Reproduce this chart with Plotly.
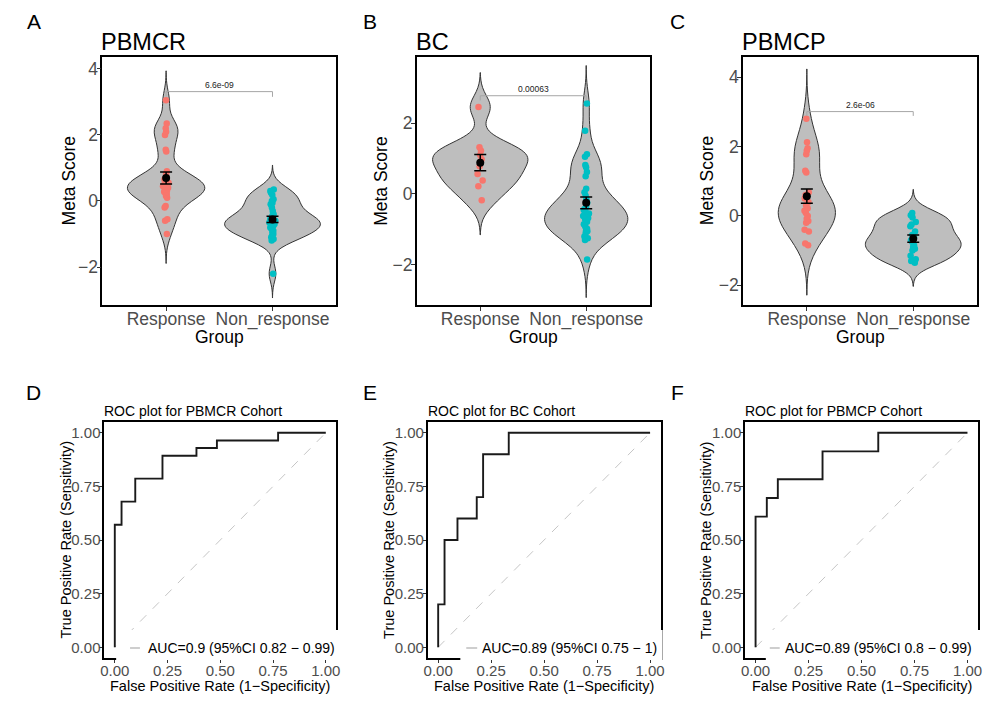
import numpy as np
import plotly.graph_objects as go

# ---------------- data ----------------
groups = ["Response", "Non_response"]
cohorts = ["PBMCR", "BC", "PBMCP"]
letters_top = ["A", "B", "C"]
letters_bottom = ["D", "E", "F"]

pbmcr_response = [3.05, 2.35, 2.2, 2.1, 2.0, 1.55, 1.5, 0.9, 0.8, 0.7, 0.65, 0.6, 0.55, 0.5,
                  0.45, 0.4, 0.35, 0.3, 0.28, 0.25, 0.2, 0.15, 0.1, -0.15, -0.2, -0.55, -0.6, -1.0]
pbmcr_non_response = [0.35, 0.3, 0.25, 0.18, 0.05, 0.0, -0.05, -0.1, -0.2, -0.3, -0.4, -0.45,
                      -0.5, -0.55, -0.6, -0.6, -0.65, -0.65, -0.7, -0.7, -0.75, -0.8, -0.85,
                      -0.9, -0.95, -1.0, -1.05, -1.1, -1.15, -1.2, -2.2]
bc_response = [2.45, 1.32, 1.22, 1.1, 0.98, 0.78, 0.56, 0.38, 0.22, -0.18]
bc_non_response = [2.55, 1.78, 1.12, 1.05, 0.82, 0.75, 0.62, 0.5, 0.15, 0.05, -0.05, -0.15,
                   -0.25, -0.35, -0.4, -0.45, -0.5, -0.55, -0.6, -0.62, -0.68, -0.72, -0.78,
                   -0.85, -0.92, -0.98, -1.02, -1.05, -1.1, -1.2, -1.25, -1.3, -1.85]
pbmcp_response = [2.8, 2.12, 1.95, 1.88, 1.78, 1.3, 1.25, 0.68, 0.6, 0.5, 0.4, 0.3, 0.22,
                  0.15, 0.08, 0.0, -0.08, -0.15, -0.2, -0.4, -0.45, -0.8, -0.85]
pbmcp_non_response = [0.08, 0.02, -0.05, -0.18, -0.25, -0.3, -0.45, -0.55, -0.62, -0.7, -0.75,
                      -0.85, -0.9, -0.95, -1.0, -1.15, -1.25, -1.3, -1.35]

p_values = ["6.6e-09", "0.00063", "2.6e-06"]

roc_pbmcr_fpr = [0, 0, 0.032, 0.097, 0.226, 0.387, 0.484, 0.774, 1.0]
roc_pbmcr_tpr = [0, 0.571, 0.679, 0.786, 0.893, 0.929, 0.964, 1.0, 1.0]
roc_bc_fpr = [0, 0, 0.030, 0.091, 0.182, 0.212, 0.333, 1.0]
roc_bc_tpr = [0, 0.2, 0.5, 0.6, 0.7, 0.9, 1.0, 1.0]
roc_pbmcp_fpr = [0, 0, 0.053, 0.105, 0.316, 0.579, 1.0]
roc_pbmcp_tpr = [0, 0.609, 0.696, 0.783, 0.913, 1.0, 1.0]

auc_labels = ["AUC=0.9 (95%CI 0.82 \u2212 0.99)",
              "AUC=0.89 (95%CI 0.75 \u2212 1)",
              "AUC=0.89 (95%CI 0.8 \u2212 0.99)"]

roc_ticks = [0, 0.25, 0.5, 0.75, 1.0]

# ---------------- layout helpers ----------------
# the page body has an 8px margin, so the figure is drawn 8px in from the corner
OFF = 8
W, H = 999 - 2 * OFF, 706 - 2 * OFF
FONT = "Liberation Sans, Arial, sans-serif"
group_colors = ["#F8766D", "#00BFC4"]


def px(x):
    return (x - OFF) / W


def py(y):
    return 1 - (y - OFF) / H


def nrd0(x):
    x = np.asarray(x, float)
    sd = x.std(ddof=1)
    iqr = np.subtract(*np.percentile(x, [75, 25]))
    lo = min(sd, iqr / 1.34)
    return 0.9 * lo * len(x) ** -0.2


def max_density(x, bw):
    x = np.asarray(x, float)
    grid = np.linspace(x.min() - 3 * bw, x.max() + 3 * bw, 512)
    d = np.exp(-0.5 * ((grid[:, None] - x[None, :]) / bw) ** 2).sum(1) / (len(x) * bw * np.sqrt(2 * np.pi))
    return d.max()


violin_data = [[pbmcr_response, pbmcr_non_response],
               [bc_response, bc_non_response],
               [pbmcp_response, pbmcp_non_response]]
roc_data = [(roc_pbmcr_fpr, roc_pbmcr_tpr), (roc_bc_fpr, roc_bc_tpr), (roc_pbmcp_fpr, roc_pbmcp_tpr)]

top_x = [(99, 335), (416, 651), (745, 981)]
top_y = (56.7, 305)
top_ranges = [[-3.15, 4.37], [-3.13, 3.87], [-2.57, 4.59]]
top_ticks = [[-2, 0, 2, 4], [-2, 0, 2], [-2, 0, 2, 4]]
bot_x = [(101, 335), (427, 662), (747, 982)]
bot_y = (422, 658)

fig = go.Figure()
layout = dict(width=W, height=H, margin=dict(l=0, r=0, t=0, b=0),
              paper_bgcolor="white", plot_bgcolor="white", showlegend=False,
              font=dict(family=FONT, color="black"))
annotations = []
shapes = []

# ---------------- violin panels ----------------
for i in range(3):
    ax = i + 1
    xa = "x" if ax == 1 else f"x{ax}"
    ya = "y" if ax == 1 else f"y{ax}"
    bws = [nrd0(d) for d in violin_data[i]]
    mds = [max_density(d, b) for d, b in zip(violin_data[i], bws)]
    for j, d in enumerate(violin_data[i]):
        bw = bws[j]
        wdt = 0.9 * mds[j] / max(mds)
        fig.add_trace(go.Violin(
            y=d, x0=j + 1, xaxis=xa, yaxis=ya, name=groups[j],
            bandwidth=bw, spanmode="manual", span=[min(d) - 3 * bw, max(d) + 3 * bw],
            width=wdt, scalemode="width", fillcolor="#BEBEBE",
            line=dict(color="#333333", width=1),
            points="all", pointpos=0, jitter=min(1, 0.06 / wdt),
            marker=dict(color=group_colors[j], size=6.5, line=dict(width=0)),
            box_visible=False, meanline_visible=False, showlegend=False, hoverinfo="skip"))
    means = [float(np.mean(d)) for d in violin_data[i]]
    ses = [float(np.std(d, ddof=1) / np.sqrt(len(d))) for d in violin_data[i]]
    fig.add_trace(go.Scatter(
        x=[1, 2], y=means, xaxis=xa, yaxis=ya, mode="markers",
        marker=dict(color="black", size=8),
        error_y=dict(type="data", array=ses, color="black", thickness=1.5, width=6),
        showlegend=False, hoverinfo="skip"))
    alld = np.concatenate([np.asarray(d, float) for d in violin_data[i]])
    rng = alld.max() - alld.min()
    yb = alld.max() + 0.05 * rng
    tip = 0.03 * rng
    fig.add_trace(go.Scatter(
        x=[1, 1, 2, 2], y=[yb - tip, yb, yb, yb - tip], xaxis=xa, yaxis=ya, mode="lines",
        line=dict(color="#A6A6A6", width=1), showlegend=False, hoverinfo="skip"))
    annotations.append(dict(x=1.5, y=yb, xref=xa, yref=ya, text=p_values[i], showarrow=False,
                            yanchor="bottom", font=dict(size=8.5, color="#222222", family=FONT)))

    x0, x1 = top_x[i]
    key = "xaxis" if ax == 1 else f"xaxis{ax}"
    ykey = "yaxis" if ax == 1 else f"yaxis{ax}"
    layout[key] = dict(domain=[px(x0), px(x1)], anchor=ya, range=[0.4, 2.6], type="linear",
                       tickvals=[1, 2], ticktext=groups, showgrid=False, zeroline=False,
                       showline=True, mirror=True, linecolor="black", linewidth=1.5,
                       ticks="outside", ticklen=4, tickcolor="#333333", ticklabelstandoff=-7,
                       tickfont=dict(size=17.5, color="#4D4D4D", family=FONT))
    layout[ykey] = dict(domain=[py(top_y[1]), py(top_y[0])], anchor=xa, range=top_ranges[i],
                        tickvals=top_ticks[i], showgrid=False, zeroline=False,
                        showline=True, mirror=True, linecolor="black", linewidth=1.5,
                        ticks="outside", ticklen=4, tickcolor="#333333", ticklabelstandoff=-5,
                        tickfont=dict(size=17.5, color="#4D4D4D", family=FONT))

# ---------------- ROC panels ----------------
legend_box_left = [113, 460, 768]
legend_dash = [(127, 137), (466, 477), (772, 782)]
legend_text_left = [143, 480, 785]
for i in range(3):
    ax = i + 4
    xa, ya = f"x{ax}", f"y{ax}"
    fpr, tpr = roc_data[i]
    fig.add_trace(go.Scatter(x=[0, 1], y=[0, 1], xaxis=xa, yaxis=ya, mode="lines",
                             line=dict(color="#BEBEBE", width=0.9, dash="dash"),
                             showlegend=False, hoverinfo="skip"))
    fig.add_trace(go.Scatter(x=fpr, y=tpr, xaxis=xa, yaxis=ya, mode="lines",
                             line=dict(color="#1A1A1A", width=1.9, shape="hv"),
                             showlegend=False, hoverinfo="skip"))
    x0, x1 = bot_x[i]
    common = dict(range=[-0.05, 1.05], tickvals=roc_ticks, tickformat=".2f", showgrid=False,
                  zeroline=False, showline=True, mirror=True, linecolor="black", linewidth=1.5,
                  ticks="outside", ticklen=3, tickcolor="#333333",
                  tickfont=dict(size=15, color="#4D4D4D", family=FONT))
    layout[f"xaxis{ax}"] = dict(domain=[px(x0), px(x1)], anchor=ya, ticklabelstandoff=-5, **common)
    layout[f"yaxis{ax}"] = dict(domain=[py(bot_y[1]), py(bot_y[0])], anchor=xa,
                                ticklabelstandoff=-4, **common)

    # legend box (white) covering the lower-right part of the frame
    shapes.append(dict(type="rect", xref="paper", yref="paper", layer="above",
                       x0=px(legend_box_left[i]), x1=px(x1 + 2), y0=py(660), y1=py(630),
                       fillcolor="white", line=dict(width=0)))
    shapes.append(dict(type="line", xref="paper", yref="paper", layer="above",
                       x0=px(legend_dash[i][0]), x1=px(legend_dash[i][1]), y0=py(648), y1=py(648),
                       line=dict(color="#BEBEBE", width=1.5)))
    annotations.append(dict(x=px(legend_text_left[i]), y=py(648), xref="paper", yref="paper",
                            xanchor="left", yanchor="middle", text=auc_labels[i], showarrow=False,
                            font=dict(size=14, color="black", family=FONT)))
    # title
    annotations.append(dict(x=px(x0 - 2), y=py(410.5), xref="paper", yref="paper", xanchor="left",
                            yanchor="middle", text=f"ROC plot for {cohorts[i]} Cohort",
                            showarrow=False, font=dict(size=14, color="black", family=FONT)))
    # axis titles
    annotations.append(dict(x=px((x0 + x1) / 2), y=py(686), xref="paper", yref="paper",
                            xanchor="center", yanchor="middle",
                            text="False Positive Rate (1\u2212Specificity)", showarrow=False,
                            font=dict(size=14.5, color="black", family=FONT)))
    annotations.append(dict(x=px([62, 388, 708][i]), y=py((bot_y[0] + bot_y[1]) / 2),
                            xref="paper", yref="paper", xanchor="center", yanchor="middle",
                            textangle=-90, text="True Positive Rate (Sensitivity)", showarrow=False,
                            font=dict(size=14.5, color="black", family=FONT)))
    annotations.append(dict(x=px([30, 369, 679][i]), y=py(392), xref="paper", yref="paper",
                            xanchor="center", yanchor="middle", text=letters_bottom[i],
                            showarrow=False, font=dict(size=21, color="black", family=FONT)))

# ---------------- violin panel texts ----------------
for i in range(3):
    x0, x1 = top_x[i]
    annotations.append(dict(x=px(x0 - 3), y=py(42), xref="paper", yref="paper", xanchor="left",
                            yanchor="middle", text=cohorts[i], showarrow=False,
                            font=dict(size=23.5, color="black", family=FONT)))
    annotations.append(dict(x=px((x0 + x1) / 2), y=py(337), xref="paper", yref="paper",
                            xanchor="center", yanchor="middle", text="Group", showarrow=False,
                            font=dict(size=17.5, color="black", family=FONT)))
    annotations.append(dict(x=px([65, 380, 709][i]), y=py((top_y[0] + top_y[1]) / 2),
                            xref="paper", yref="paper", xanchor="center", yanchor="middle",
                            textangle=-90, text="Meta Score", showarrow=False,
                            font=dict(size=17.5, color="black", family=FONT)))
    annotations.append(dict(x=px([30, 369, 679][i]), y=py(22), xref="paper", yref="paper",
                            xanchor="center", yanchor="middle", text=letters_top[i],
                            showarrow=False, font=dict(size=21, color="black", family=FONT)))

layout["annotations"] = annotations
layout["shapes"] = shapes
fig.update_layout(**layout)
fig.write_html("out.html")
